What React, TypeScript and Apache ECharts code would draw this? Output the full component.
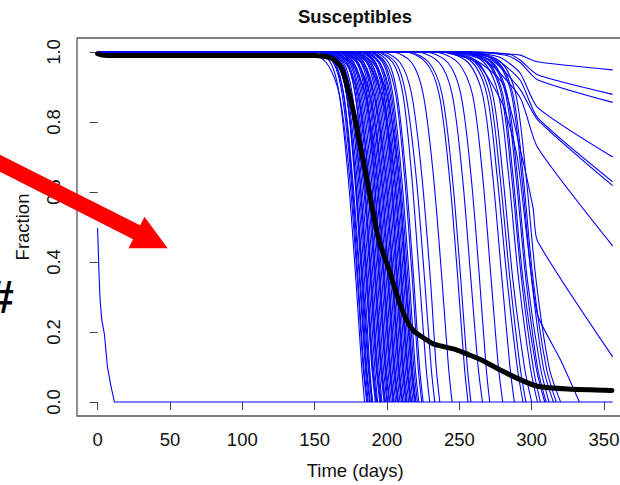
import React, { useEffect, useRef } from "react";
import * as echarts from "echarts";

const TITLE = "Susceptibles";
const X_NAME = "Time (days)";
const Y_NAME = "Fraction";
const X_TICKS = [0, 50, 100, 150, 200, 250, 300, 350];
const Y_TICKS = [0, 0.2, 0.4, 0.6, 0.8, 1.0];

const LEVELS = [1, 0.97, 0.88, 0.65, 0.35, 0.1, 0];

// Crossing times (days) of each simulated run at the LEVELS above
const RUN_TIMES: number[][] = [
  [151, 161, 167, 173, 178.5, 182.5, 184.5],
  [145, 158, 167, 174, 179.5, 183.5, 186],
  [153, 163, 169, 175, 180, 184, 186.5],
  [154, 164, 170, 175.5, 181, 185, 187],
  [152, 163, 170, 176, 181.5, 185.5, 188],
  [156, 166, 172, 177.5, 182.5, 186, 188.5],
  [154, 165, 172, 178, 183, 187, 189.5],
  [155, 166, 172, 178, 183.5, 187.5, 190],
  [157, 167, 173, 179, 184.5, 188, 190],
  [156, 167, 174, 180, 185.5, 189.5, 192],
  [158, 168, 175, 181, 186, 190, 192.5],
  [158, 169, 175, 181, 186.5, 190.5, 193],
  [159, 170, 176, 182, 187.5, 191.5, 193.5],
  [152, 166, 175, 183, 188.5, 192.5, 195],
  [161, 172, 178, 184, 189, 193, 195.5],
  [160, 172, 178, 184, 189.5, 193.5, 196],
  [163, 173, 179, 185, 190.5, 194.5, 196.5],
  [162, 174, 180, 186, 191.5, 195.5, 198],
  [158, 171, 180, 187, 192, 196, 198.5],
  [165, 175, 181, 187, 192.5, 196.5, 199],
  [164, 176, 182, 188, 193.5, 197.5, 200],
  [167, 177, 183, 189, 194.5, 198.5, 200.5],
  [166, 177, 184, 190, 195, 199, 201.5],
  [170, 180, 186, 191, 195.5, 199.5, 202],
  [168, 179, 185, 191, 196.5, 200.5, 203],
  [170, 180, 186, 192, 197.5, 201.5, 204],
  [169, 180, 187, 193, 198, 202, 204.5],
  [160, 175, 185, 193, 198.5, 202.5, 205],
  [172, 182, 188, 194, 199.5, 203.5, 206],
  [171, 183, 189, 195, 200.5, 204.5, 207],
  [165, 179, 188, 196, 201, 205, 207.5],
  [174, 184, 190, 196, 201.5, 205.5, 208],
  [173, 184, 191, 197, 202.5, 206.5, 209],
  [175, 186, 192, 198, 203.5, 207.5, 210],
  [168, 182, 191, 199, 204, 208, 210.5],
  [176, 187, 193, 199, 204.5, 208.5, 211],
  [177, 188, 194, 200, 205.5, 209.5, 212],
  [178, 189, 195, 201, 206.5, 210.5, 213],
  [183, 192, 198, 203, 207, 211, 213.5],
  [178, 189, 196, 202, 207.5, 211.5, 214],
  [180, 191, 197, 203, 208.5, 212.5, 215],
  [181, 192, 198, 204, 209.5, 213.5, 216],
  [172, 186, 196, 205, 210, 214, 216.5],
  [181, 192, 199, 205, 210.5, 214.5, 217],
  [183, 194, 200, 206, 211.5, 215.5, 218],
  [184, 195, 201, 207, 212.5, 216.5, 219],
  [176, 190, 200, 208, 213, 217, 219.5],
  [184, 195, 202, 208, 213.5, 217.5, 220],
  [186, 197, 203, 209, 214.5, 218.5, 221],
  [187, 198, 204, 210, 215.5, 219.5, 222],
  [188, 199, 206, 212, 217.5, 221.5, 224],
  [190, 201, 207, 213, 218.5, 222.5, 225],
  [192, 204, 211, 217, 222.5, 227, 229.5],
  [193, 206, 213, 220, 226, 230.5, 233],
  [196, 209, 217, 224, 230, 234, 236.5],
  [203, 217, 225, 232, 238, 242.5, 245],
  [212, 227, 236, 243, 249, 253.5, 256],
  [214, 229, 238, 245, 251, 255.5, 258],
  [220, 236, 245, 252, 258, 263, 266],
  [226, 242, 251, 258, 264, 268.5, 271],
  [232, 249, 259, 266, 272, 277, 280],
  [238, 256, 266, 273, 279.5, 285, 288],
  [240, 259, 269, 276, 283, 290, 294],
  [242, 261, 271, 278, 285, 292, 296],
  [244, 263, 273, 280, 287, 295, 300],
  [248, 267, 277, 284, 291, 299, 304],
  [249, 269, 279, 286, 293, 301, 306],
  [250, 270, 280, 287, 294, 303, 309],
  [251, 272, 282, 289, 296, 304, 310],
  [252, 273, 283, 290, 297, 306, 312],
  [255, 276, 286, 293, 300, 308, 315],
  [256, 277, 287, 294, 301, 310, 317],
  [258, 279, 289, 296, 303, 312, 320],
];

// Run that starts at 0.5 and then stays at 0 to the end: [day, fraction]
const EARLY_RUN: number[][] = [[0, 0.497], [0.9, 0.375], [1.7, 0.293], [2.9, 0.234], [4.7, 0.194], [6.8, 0.1], [9.3, 0.044], [11.6, 0], [356, 0]];

// Late runs read point by point: [day, fraction]
const LATE_RUNS: number[][][] = [
  [[0, 1], [235, 1], [262, 0.97], [280, 0.85], [290, 0.7], [297, 0.46], [304, 0.25], [320, 0.12], [333, 0]],
  [[0, 1], [255, 1], [280, 0.995], [292, 0.991], [304, 0.972], [356, 0.949]],
  [[0, 1], [265, 1], [285, 0.993], [292, 0.977], [304, 0.935], [356, 0.879]],
  [[0, 1], [260, 1], [283, 0.99], [292, 0.97], [304, 0.921], [356, 0.856]],
  [[0, 1], [255, 1], [278, 0.985], [292, 0.94], [304, 0.842], [356, 0.7]],
  [[0, 1], [250, 1], [275, 0.98], [292, 0.92], [304, 0.813], [356, 0.629]],
  [[0, 1], [248, 1], [273, 0.975], [292, 0.893], [304, 0.807], [356, 0.618]],
  [[0, 1], [245, 1], [270, 0.97], [292, 0.87], [304, 0.728], [356, 0.446]],
  [[0, 1], [240, 1], [262, 0.975], [280, 0.91], [292, 0.723], [301, 0.553], [304, 0.46], [356, 0.129]],
];

// Mean trajectory (black)
const MEAN_T = [0, 3, 12, 150, 160, 165, 169, 172, 177, 181.5, 186, 190.7, 194, 197, 201, 205, 209, 214, 218, 222, 232, 248, 256, 265, 278, 292, 304, 325, 355.5];
const MEAN_V = [0.995, 0.9915, 0.99, 0.99, 0.985, 0.973, 0.95, 0.911, 0.827, 0.732, 0.638, 0.534, 0.47, 0.43, 0.384, 0.33, 0.279, 0.23, 0.205, 0.192, 0.166, 0.149, 0.136, 0.121, 0.092, 0.064, 0.045, 0.037, 0.033];

const FONT = '"Liberation Sans", Arial, Helvetica, sans-serif';

export default function App() {
  const ref = useRef<HTMLDivElement>(null);
  useEffect(() => {
    document.body.style.overflow = "hidden";
    const chart = echarts.init(ref.current!, undefined, { renderer: "svg" });
    const blue = { color: "#0000ff", width: 1.1 };
    const series: any[] = [];
    RUN_TIMES.forEach((times) => {
      const data = [[0, 1], ...times.map((t, i) => [t, LEVELS[i]])];
      series.push({ type: "line", data, symbol: "none", smooth: 0.3, lineStyle: blue, silent: true, z: 2 });
    });
    series.push({ type: "line", data: EARLY_RUN, symbol: "none", lineStyle: blue, silent: true, z: 2 });
    LATE_RUNS.forEach((pts) => {
      series.push({ type: "line", data: pts, symbol: "none", smooth: 0.2, lineStyle: blue, silent: true, z: 2 });
    });
    series.push({
      type: "line",
      data: MEAN_T.map((t, i) => [t, MEAN_V[i]]),
      symbol: "none",
      smooth: 0.2,
      lineStyle: { color: "#000", width: 5, cap: "round", join: "round" },
      silent: true,
      z: 5,
    });

    // arrow geometry (pixels)
    const arrowShaft = [[-16.6, 146.5], [140.5, 225.5], [133.5, 239.5], [-23.4, 159.9]];
    const arrowHead = [[144.5, 216.7], [167.7, 248.3], [128.5, 248.3]];

    chart.setOption({
      animation: false,
      backgroundColor: "#fff",
      grid: {
        left: 77,
        top: 38,
        width: 556.3,
        height: 382,
        show: true,
        borderColor: "#555",
        borderWidth: 1.3,
        backgroundColor: "transparent",
      },
      xAxis: {
        type: "value",
        min: -14.24,
        max: 370.24,
        name: X_NAME,
        nameLocation: "middle",
        nameGap: 45,
        nameTextStyle: { fontFamily: FONT, fontSize: 18.5, color: "#111" },
        axisLine: { show: false },
        splitLine: { show: false },
        axisTick: { show: true, length: 8, inside: false, customValues: X_TICKS, lineStyle: { color: "#444", width: 1 } },
        axisLabel: { customValues: X_TICKS, margin: 14, fontFamily: FONT, fontSize: 18.5, color: "#111" },
      },
      yAxis: {
        type: "value",
        min: -0.04,
        max: 1.04,
        name: Y_NAME,
        nameLocation: "middle",
        nameGap: 45,
        nameTextStyle: { fontFamily: FONT, fontSize: 18.5, color: "#111" },
        axisLine: { show: false },
        splitLine: { show: false },
        axisTick: { show: true, length: 8, inside: false, customValues: Y_TICKS, lineStyle: { color: "#444", width: 1 } },
        axisLabel: {
          customValues: Y_TICKS,
          rotate: 90,
          margin: 14,
          fontFamily: FONT,
          fontSize: 18.5,
          color: "#111",
          formatter: (v: number) => v.toFixed(1),
        },
      },
      graphic: [
        {
          type: "text",
          x: 355,
          y: 16,
          z: 50,
          style: { text: TITLE, fontFamily: FONT, fontSize: 18.5, fontWeight: "bold", fill: "#111", align: "center", verticalAlign: "middle" },
        },
        { type: "polygon", z: 100, shape: { points: arrowShaft }, style: { fill: "#ff0000" } },
        { type: "polygon", z: 100, shape: { points: arrowHead }, style: { fill: "#ff0000" } },
        {
          type: "text",
          x: 1,
          y: 297,
          z: 100,
          style: { text: "#", fontFamily: FONT, fontSize: 46, fontWeight: "bold", fill: "#000", align: "center", verticalAlign: "middle" },
        },
      ],
      series,
    });
    return () => chart.dispose();
  }, []);
  return <div ref={ref} style={{ position: "fixed", left: 0, top: 0, width: 660, height: 485 }} />;
}
